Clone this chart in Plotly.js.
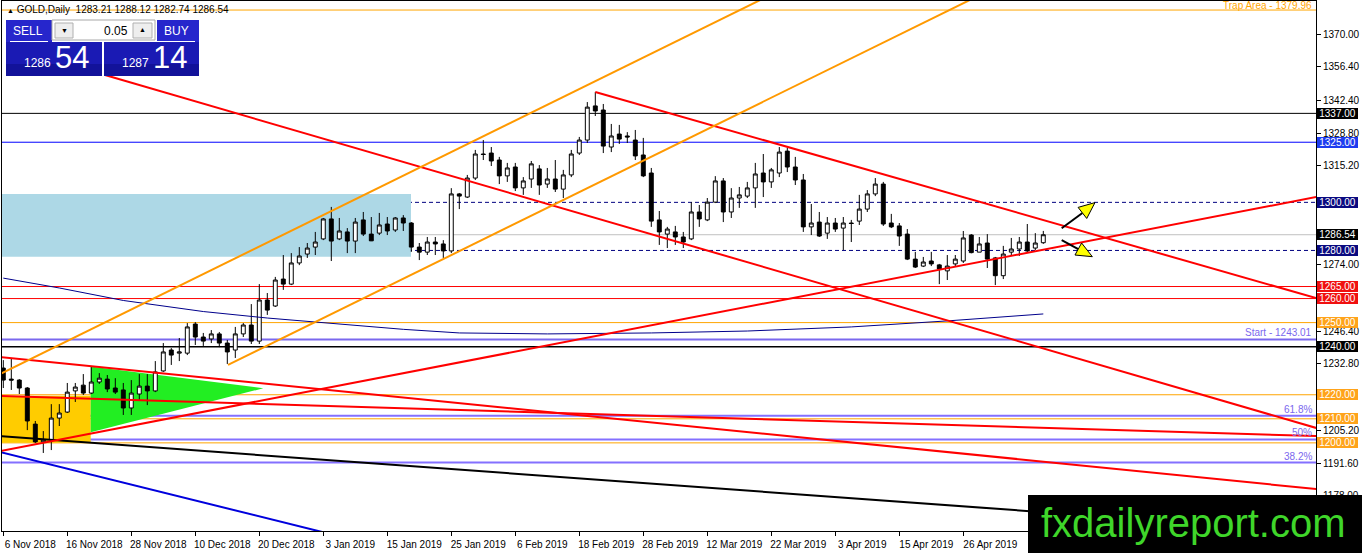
<!DOCTYPE html>
<html><head><meta charset="utf-8">
<script src="https://cdn.plot.ly/plotly-3.0.1.min.js"></script>
<style>html,body{margin:0;padding:0;background:#fff;overflow:hidden}#chart{width:1362px;height:553px}</style>
</head><body><div id="chart"></div>
<script>
// ---- candle data (GOLD, Daily), bar index 0 = 6 Nov 2018 ----
const openP = [1231.1,1226.5,1226.1,1222.8,1207.8,1200.4,1201.2,1210.3,1212.8,1221.6,1224.0,1220.7,1225.3,1226.5,1222.8,1222.0,1214.5,1220.3,1223.6,1221.6,
1229.9,1238.6,1237.3,1237.3,1249.4,1244.0,1243.2,1245.3,1241.5,1238.6,1245.3,1249.0,1242.3,1259.4,1256.9,1268.1,1266.0,1274.8,1278.5,1281.4,
1284.8,1293.1,1284.8,1287.7,1283.9,1292.7,1286.8,1287.2,1291.0,1288.5,1293.5,1291.4,1281.4,1279.3,1283.5,1282.7,1279.8,1303.5,1302.2,1310.1,
1320.1,1320.5,1317.6,1311.0,1314.7,1306.0,1309.7,1313.9,1307.6,1309.7,1305.5,1311.4,1320.5,1325.9,1340.1,1338.4,1323.0,1328.4,1327.6,1325.9,
1319.7,1312.2,1292.7,1286.8,1287.7,1285.6,1284.8,1296.0,1292.7,1300.1,1308.9,1296.0,1301.8,1302.6,1306.0,1312.2,1308.5,1312.2,1321.3,1314.7,
1309.3,1289.8,1291.8,1287.2,1291.4,1289.3,1291.4,1292.2,1297.2,1303.5,1307.6,1291.4,1290.2,1286.8,1276.4,1273.5,1275.6,1274.0,1271.5,1274.4,
1275.6,1286.4,1279.3,1283.1,1276.9,1269.5,1279.3,1280.6,1283.5,1281.0,1283.21];
const highP = [1234.4,1235.3,1226.5,1223.2,1209.1,1204.9,1216.1,1216.1,1224.9,1224.9,1228.6,1231.5,1229.0,1228.2,1226.9,1224.9,1226.1,1228.6,1228.6,1234.0,
1241.5,1239.4,1243.6,1249.8,1250.2,1245.7,1246.9,1246.1,1242.8,1248.2,1249.8,1257.7,1266.0,1262.3,1269.0,1278.1,1278.9,1281.4,1283.1,1287.7,
1293.5,1298.1,1293.5,1289.3,1293.5,1296.0,1293.9,1295.6,1293.9,1293.9,1294.7,1291.8,1283.1,1285.6,1285.6,1284.3,1305.9,1303.9,1311.4,1321.8,
1325.9,1323.0,1318.9,1316.4,1316.4,1310.5,1317.2,1315.5,1314.3,1317.6,1313.5,1321.8,1327.2,1341.7,1345.9,1340.9,1332.6,1332.2,1329.2,1330.1,
1326.8,1314.3,1296.4,1289.8,1290.2,1287.7,1300.1,1298.9,1301.8,1310.9,1310.1,1305.9,1306.4,1308.5,1316.4,1320.1,1314.3,1323.0,1322.6,1318.9,
1311.8,1299.3,1296.0,1293.9,1293.5,1293.9,1292.7,1303.1,1305.1,1310.1,1308.5,1295.2,1291.4,1288.9,1279.4,1277.3,1279.4,1274.4,1278.1,1278.1,
1288.1,1286.8,1285.6,1286.8,1277.3,1281.9,1285.2,1285.6,1291.0,1287.2,1288.12];
const lowP = [1222.8,1222.0,1220.3,1205.3,1199.9,1195.8,1197.0,1207.0,1212.4,1217.0,1219.9,1220.3,1224.5,1221.1,1220.3,1211.6,1211.6,1217.8,1215.7,1221.1,
1229.5,1232.4,1234.0,1236.5,1240.7,1240.3,1241.5,1239.8,1232.8,1235.3,1244.0,1241.1,1241.1,1253.2,1256.5,1263.6,1265.6,1273.9,1276.9,1278.1,
1284.3,1275.6,1284.3,1278.9,1278.9,1286.0,1283.9,1286.4,1286.4,1287.7,1288.1,1279.4,1276.0,1278.1,1278.1,1276.9,1278.9,1297.2,1301.8,1309.3,
1317.6,1315.1,1307.6,1308.5,1304.7,1303.1,1306.0,1303.1,1306.0,1304.3,1301.8,1310.5,1319.7,1324.7,1335.9,1320.5,1320.9,1324.3,1324.7,1317.6,
1310.5,1289.8,1282.3,1281.0,1282.3,1281.0,1284.3,1289.8,1292.2,1299.7,1291.8,1293.5,1297.7,1301.8,1297.7,1302.2,1306.0,1310.5,1312.6,1307.2,
1287.7,1286.4,1285.6,1284.8,1287.7,1280.2,1283.5,1290.6,1296.0,1302.6,1290.2,1289.3,1281.9,1276.0,1272.7,1273.1,1273.5,1266.0,1267.7,1273.5,
1274.8,1278.8,1279.3,1272.7,1265.6,1268.1,1277.7,1277.7,1279.3,1280.2,1282.74];
const closeP = [1226.1,1226.1,1222.8,1209.1,1200.4,1201.2,1210.3,1212.4,1221.1,1223.2,1220.7,1225.3,1226.9,1222.4,1221.1,1214.5,1220.7,1223.6,1221.6,1229.5,
1237.8,1236.5,1237.8,1248.2,1244.0,1242.3,1245.3,1241.5,1237.8,1245.3,1249.0,1242.3,1259.4,1255.2,1267.7,1266.0,1274.8,1277.7,1281.0,1283.5,
1293.1,1283.9,1288.1,1283.9,1291.8,1286.8,1284.0,1290.6,1288.1,1293.5,1291.4,1281.4,1279.3,1283.5,1282.7,1279.8,1303.5,1302.6,1310.1,1320.1,
1319.9,1317.2,1311.0,1314.3,1306.0,1308.9,1316.0,1307.2,1309.7,1305.5,1311.4,1320.1,1325.9,1339.6,1338.0,1323.4,1327.6,1326.3,1327.2,1319.3,
1311.0,1292.2,1287.7,1288.9,1285.6,1283.5,1296.0,1293.1,1300.1,1308.9,1296.0,1301.8,1303.1,1306.0,1311.8,1308.5,1313.5,1320.9,1314.7,1309.3,
1289.8,1291.4,1286.0,1291.4,1288.9,1291.4,1291.2,1297.2,1303.5,1307.6,1291.0,1289.8,1286.0,1276.4,1273.1,1275.2,1274.4,1272.3,1273.5,1276.4,
1285.2,1279.1,1282.7,1276.4,1269.5,1278.5,1280.6,1283.5,1279.8,1283.1,1286.54];

// ---- axis ticks ----
const xTickIdx = [0,8,16,24,32,40,48,56,64,72,80,88,96,104,112,120];
const xTickText = ['6 Nov 2018','16 Nov 2018','28 Nov 2018','10 Dec 2018','20 Dec 2018','3 Jan 2019','15 Jan 2019','25 Jan 2019',
  '6 Feb 2019','18 Feb 2019','28 Feb 2019','12 Mar 2019','22 Mar 2019','3 Apr 2019','15 Apr 2019','26 Apr 2019'];
const yTickVals = [1370,1356.4,1342.4,1328.8,1315.2,1274,1246.4,1232.8,1205.2,1191.6,1178];

// ---- horizontal levels ----
const hLineValues = [1379.96,1337,1325,1300,1286.54,1280,1265,1260,1250,1243.01,1240,1220,1210,1200,1211.3,1201.4,1191.8];
const hLineColors = ['#FFA500','#000000','#0000FF','#000080','#C0C0C0','#000080','#FF0000','#FF0000','#FFA500','#7B68EE','#000000','#FFA500','#FFA500','#FFA500','#8470FF','#8470FF','#8470FF'];
const hLineWidths = [1,1,1,1,1,1,1,1,1,2,1.5,1,1,1,2,2,2];
const hLineDashes = ['solid','solid','solid','4px,3px','solid','4px,3px','solid','solid','solid','solid','solid','solid','solid','solid','solid','solid','solid'];

// ---- price tags on the right scale ----
const tagValues = [1337,1325,1300,1286.54,1280,1265,1260,1250,1240,1220,1210,1200];
const tagColors = ['#000000','#1E3CF0','#0A0A80','#000000','#0A0A80','#F01010','#F01010','#FFA31A','#000000','#FFA31A','#FFA31A','#FFA31A'];

// ---- text labels on levels ----
const levelTextValues = [1379.96,1243.01,1211.3,1201.4,1191.8];
const levelTexts = ['Trap Area - 1379.96','Start - 1243.01','61.8%','50%','38.2%'];
const levelTextColors = ['#FFA500','#7B68EE','#7B68EE','#7B68EE','#7B68EE'];
const levelTextShift = [-2,0,0,0,0];

// ---- trend lines (bar index, price) ----
const redLongX = [12.71,164.1], redLongY = [1352.95,1206.2];
const redUpperX = [74,164.1], redUpperY = [1345.9,1260.2];
const redRiseX = [-0.41,164.1], redRiseY = [1196.6,1302.2];
const orangeUpX = [-0.41,94.6], orangeUpY = [1228.6,1384.1];
const orangeLoX = [28.09,120.8], orangeLoY = [1232.4,1384.1];
const blackX = [-0.41,164.1], blackY = [1202.8,1162.9];
const blueX = [-0.41,49.6], blueY = [1196.2,1154.9];
const redLeftX = [-0.41,164.1], redLeftY = [1235.7,1180.8];
const redFlatX = [-0.41,164.1], redFlatY = [1219.5,1202.8];
// moving average
const maIdx = [0,7,15,25,33,41,50,57,68,81,93,106,118,130];
const maVal = [1268.5,1264.4,1259.2,1254.6,1251.9,1249.7,1247.2,1245.7,1245.3,1245.7,1246.5,1248.2,1250.7,1253.6];

// ---- zones ----
const blueZoneX = [-1,50.96], blueZoneY = [1277.4,1303.5];
const goldZoneX = [-1,10.925], goldZoneY = [1200,1219.6];
const greenTriX = [10.925,10.925,32.5], greenTriY = [1231.7,1204.4,1222.7];

// ---- arrows ----
const upShaftX = [132.3,134.89], upShaftY = [1289.2,1295.6];
const upHeadX = [136.46,135.43,134.35], upHeadY = [1299.9,1293.3,1297.9];
const dnShaftX = [132.3,134.37], dnShaftY = [1284.3,1280.6];
const dnHeadX = [136.13,133.96,134.79], dnHeadY = [1277.4,1278.1,1283.1];

const idx = openP.map((_, i) => i);
const FONT = 'Liberation Sans, Arial, sans-serif';

const traces = [{
  type: 'candlestick', x: idx, open: openP, high: highP, low: lowP, close: closeP,
  increasing: {line: {color: '#000', width: 1}, fillcolor: '#fff'},
  decreasing: {line: {color: '#000', width: 1}, fillcolor: '#000'},
  whiskerwidth: 0, hoverinfo: 'skip', showlegend: false
}];
function lineTrace(x, y, color, width) {
  traces.push({type: 'scatter', mode: 'lines', x: x, y: y, line: {color: color, width: width}, hoverinfo: 'skip', showlegend: false, cliponaxis: true});
}
lineTrace(maIdx, maVal, '#00008B', 1);
lineTrace(blueX, blueY, '#0000DD', 2);
lineTrace(blackX, blackY, '#000000', 2);
lineTrace(redLeftX, redLeftY, '#FF0000', 2);
lineTrace(redFlatX, redFlatY, '#FF0000', 2);
lineTrace(redRiseX, redRiseY, '#FF0000', 2);
lineTrace(redLongX, redLongY, '#FF0000', 2);
lineTrace(redUpperX, redUpperY, '#FF0000', 2);
lineTrace(orangeUpX, orangeUpY, '#FF9900', 2);
lineTrace(orangeLoX, orangeLoY, '#FF9900', 2);
lineTrace(upShaftX, upShaftY, '#000000', 2);
lineTrace(dnShaftX, dnShaftY, '#000000', 2);

const fx = px => (px - 2) / 1314;
const fy = py => 1 - (py - 1) / 530;

const shapes = [];
shapes.push({type: 'rect', xref: 'x', yref: 'y', x0: blueZoneX[0], x1: blueZoneX[1], y0: blueZoneY[0], y1: blueZoneY[1], fillcolor: '#ADD8E6', line: {width: 0}, layer: 'below'});
shapes.push({type: 'rect', xref: 'x', yref: 'y', x0: goldZoneX[0], x1: goldZoneX[1], y0: goldZoneY[0], y1: goldZoneY[1], fillcolor: '#FFCC00', line: {width: 0}, layer: 'below'});
shapes.push({type: 'path', xref: 'x', yref: 'y', path: 'M' + greenTriX.map((v, i) => v + ',' + greenTriY[i]).join('L') + 'Z', fillcolor: '#22EE22', line: {width: 0}, layer: 'below'});
hLineValues.forEach((v, i) => shapes.push({type: 'line', xref: 'paper', x0: 0, x1: 1, yref: 'y', y0: v, y1: v,
  line: {color: hLineColors[i], width: hLineWidths[i], dash: hLineDashes[i]}, layer: 'below'}));
// arrow heads
[[upHeadX, upHeadY], [dnHeadX, dnHeadY]].forEach(h => shapes.push({type: 'path', xref: 'x', yref: 'y',
  path: 'M' + h[0].map((v, i) => v + ',' + h[1][i]).join('L') + 'Z', fillcolor: '#FFFF00', line: {color: '#000', width: 1}, layer: 'above'}));

// trade panel
function prect(x0, y0, x1, y1, fill, lc) {
  shapes.push({type: 'rect', xref: 'paper', yref: 'paper', x0: fx(x0), x1: fx(x1), y0: fy(y1), y1: fy(y0), fillcolor: fill,
    line: lc ? {color: lc, width: 1} : {width: 0}, layer: 'above'});
}
function pline(x0, y0, x1, y1, c) {
  shapes.push({type: 'line', xref: 'paper', yref: 'paper', x0: fx(x0), x1: fx(x1), y0: fy(y0), y1: fy(y1), line: {color: c, width: 1}, layer: 'above'});
}
prect(6, 20, 52, 42, '#2626CC');
prect(157, 20, 199, 42, '#2626CC');
prect(6, 42, 102, 76, '#1A1AB4');
prect(104, 42, 199, 76, '#1A1AB4');
prect(6, 64, 102, 76, '#12129A');
prect(104, 64, 199, 76, '#12129A');
prect(52, 20, 155, 40, '#FFFFFF', '#A8A8A8');
prect(55, 23, 73, 38, '#EEEEEE', '#B0B0B0');
prect(133, 23, 152, 38, '#EEEEEE', '#B0B0B0');
pline(10, 41.5, 48, 41.5, '#FFFFFF');
pline(157, 41.5, 195, 41.5, '#FFFFFF');
// watermark box
prect(1028, 495, 1362, 553, '#000000');

const annotations = [];
tagValues.forEach((v, i) => annotations.push({xref: 'paper', x: 1, xanchor: 'left', xshift: 1, yref: 'y', y: v, yanchor: 'middle',
  text: v.toFixed(2), showarrow: false, bgcolor: tagColors[i], font: {family: FONT, size: 10, color: '#FFFFFF'},
  width: 41, height: 11, borderpad: 0, borderwidth: 0, align: 'center'}));
levelTextValues.forEach((v, i) => annotations.push({xref: 'paper', x: 1, xanchor: 'right', xshift: -3, yref: 'y', y: v, yanchor: 'bottom',
  yshift: levelTextShift[i], text: levelTexts[i], showarrow: false, font: {family: FONT, size: 10, color: levelTextColors[i]}, borderpad: 0}));
function pann(text, px, py, size, color, anchor) {
  annotations.push({xref: 'paper', yref: 'paper', x: fx(px), y: fy(py), xanchor: anchor || 'center', yanchor: 'middle',
    text: text, showarrow: false, font: {family: FONT, size: size, color: color}, borderpad: 0});
}
pann('<span style="font-size:7px">▲</span> GOLD,Daily  1283.21 1288.12 1282.74 1286.54', 6, 10, 10, '#000', 'left');
pann('SELL', 28, 31, 12, '#FFFFFF');
pann('BUY', 176, 31, 12, '#FFFFFF');
pann('0.05', 129, 31, 12, '#000000', 'right');
pann('▼', 64, 31, 7, '#000000');
pann('▲', 142.5, 30, 7, '#000000');
pann('1286', 23, 63, 12, '#FFFFFF', 'left');
pann('54', 71.5, 58, 31, '#FFFFFF');
pann('1287', 121, 63, 12, '#FFFFFF', 'left');
pann('14', 169.5, 58, 31, '#FFFFFF');
pann('fxdailyreport.com', 1193.5, 523, 40, '#3FD62A');

const layout = {
  width: 1362, height: 553, margin: {l: 2, r: 46, t: 1, b: 22, pad: 0},
  paper_bgcolor: '#FFFFFF', plot_bgcolor: '#FFFFFF', showlegend: false,
  font: {family: FONT, size: 10, color: '#000'},
  xaxis: {range: [-0.1625, 164.0875], type: 'linear', rangeslider: {visible: false}, showgrid: false, zeroline: false,
    showline: true, linecolor: '#000', linewidth: 1, mirror: true, ticks: 'outside', ticklen: 4, tickcolor: '#000',
    tickvals: xTickIdx, ticktext: xTickText, ticklabelposition: 'outside', ticklabelshift: 27,
    tickfont: {family: FONT, size: 10, color: '#000'}, fixedrange: true},
  yaxis: {range: [1163.35, 1383.72], side: 'right', showgrid: false, zeroline: false, showline: true, linecolor: '#000', linewidth: 1, mirror: true,
    ticks: 'outside', ticklen: 4, tickcolor: '#000', tickvals: yTickVals, ticktext: yTickVals.map(v => v.toFixed(2)),
    tickfont: {family: FONT, size: 10, color: '#000'}, fixedrange: true},
  shapes: shapes, annotations: annotations
};
Plotly.newPlot('chart', traces, layout, {staticPlot: true, displayModeBar: false});
</script></body></html>
